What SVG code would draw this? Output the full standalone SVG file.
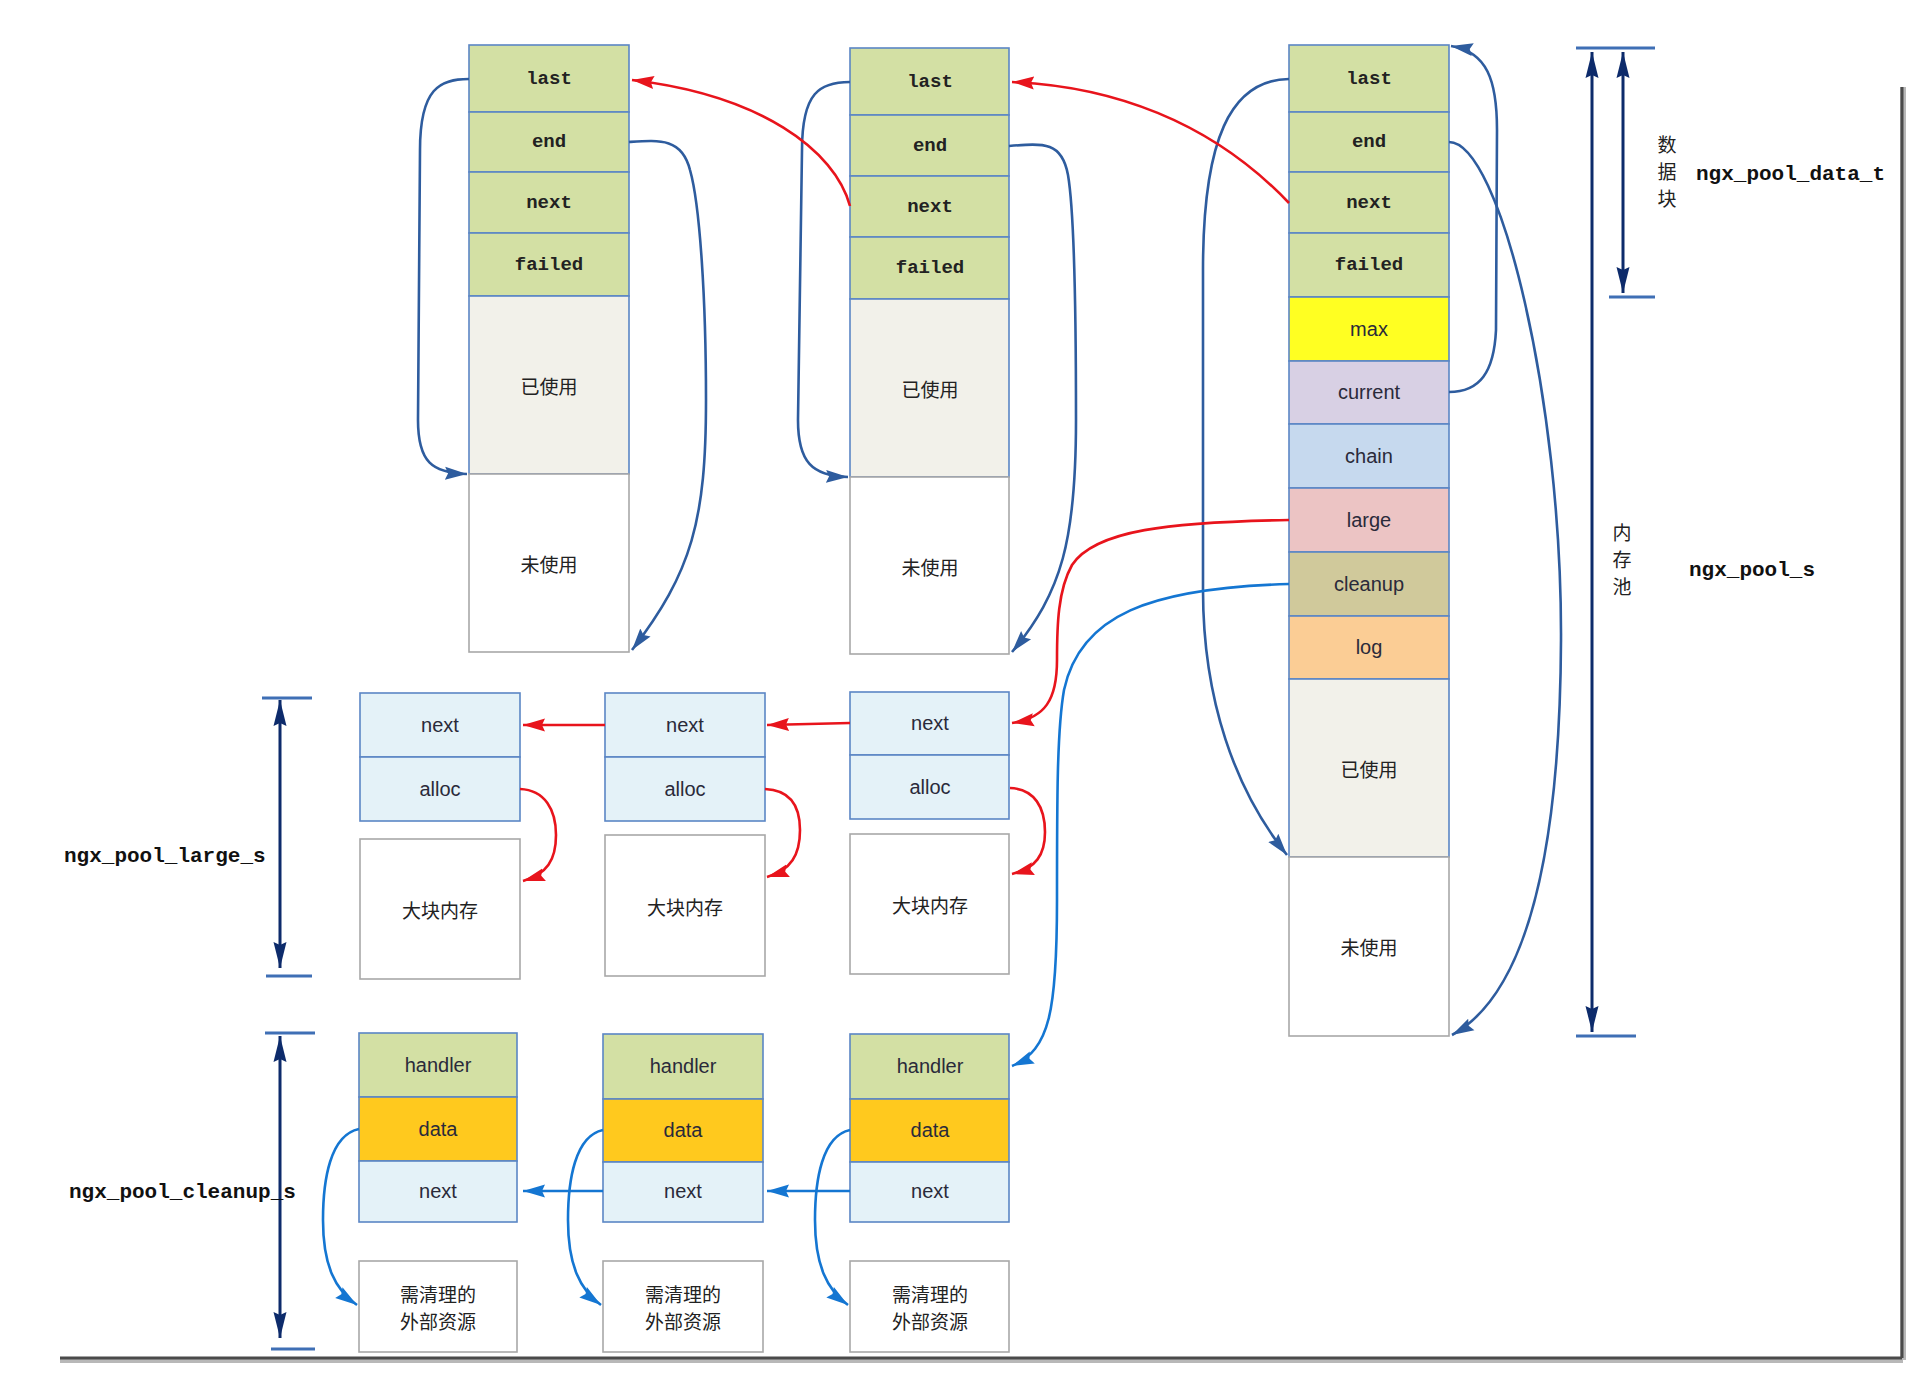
<svg xmlns="http://www.w3.org/2000/svg" width="1932" height="1378" viewBox="0 0 1932 1378">
<style>
.b{stroke:#5b86c5;stroke-width:1.6}
.u{fill:#ffffff;stroke:#a8a8a8;stroke-width:1.6}
.g{fill:#d3e0a4}
.used{fill:#f2f1ea}
.lb{fill:#e4f2f8}
.mono{font-family:"Liberation Mono","DejaVu Sans Mono",monospace;font-size:19px;font-weight:bold;fill:#222;text-anchor:middle;dominant-baseline:central}
.sans{font-family:"Liberation Sans",Arial,sans-serif;font-size:20px;fill:#2a2a3a;text-anchor:middle;dominant-baseline:central}
.cjk{font-family:"Noto Sans CJK SC","Noto Sans",sans-serif;font-size:19px;fill:#222;text-anchor:middle;dominant-baseline:central}
.lab{font-family:"Liberation Mono","DejaVu Sans Mono",monospace;font-size:21px;font-weight:bold;fill:#111;dominant-baseline:central}
.cb{fill:none;stroke:#2e5c9e;stroke-width:2.6}
.cr{fill:none;stroke:#e8141c;stroke-width:2.6}
.cl{fill:none;stroke:#1476d2;stroke-width:2.6}
.dim{fill:none;stroke:#0d2b6b;stroke-width:3}
.tick{stroke:#3f6fb5;stroke-width:3}
</style>
<defs>
<marker id="ab" markerUnits="userSpaceOnUse" markerWidth="24" markerHeight="16" refX="22" refY="8" orient="auto" viewBox="0 0 24 16"><path d="M0,1.5 L22,8 L0,14.5 L3,8 z" fill="#2e5c9e"/></marker>
<marker id="ar" markerUnits="userSpaceOnUse" markerWidth="24" markerHeight="16" refX="22" refY="8" orient="auto" viewBox="0 0 24 16"><path d="M0,1.5 L22,8 L0,14.5 L3,8 z" fill="#e8141c"/></marker>
<marker id="al" markerUnits="userSpaceOnUse" markerWidth="24" markerHeight="16" refX="22" refY="8" orient="auto" viewBox="0 0 24 16"><path d="M0,1.5 L22,8 L0,14.5 L3,8 z" fill="#1476d2"/></marker>
<marker id="ad" markerUnits="userSpaceOnUse" markerWidth="28" markerHeight="14" refX="26" refY="7" orient="auto-start-reverse" viewBox="0 0 28 14"><path d="M0,0.5 L26,7 L0,13.5 L3,7 z" fill="#0d2b6b"/></marker>
</defs>

<!-- frame shadow -->
<g id="frame">
<line x1="1903" y1="87" x2="1903" y2="1360" stroke="#b8b8b8" stroke-width="6"/>
<line x1="60" y1="1360" x2="1903" y2="1360" stroke="#b8b8b8" stroke-width="6"/>
<line x1="1902" y1="87" x2="1902" y2="1358" stroke="#4a4a4a" stroke-width="3"/>
<line x1="60" y1="1358" x2="1902" y2="1358" stroke="#4a4a4a" stroke-width="3"/>
</g>

<!-- Block 1 -->
<g id="block1">
<rect x="469" y="45" width="160" height="67" class="g b"/>
<rect x="469" y="112" width="160" height="60" class="g b"/>
<rect x="469" y="172" width="160" height="61" class="g b"/>
<rect x="469" y="233" width="160" height="63" class="g b"/>
<rect x="469" y="296" width="160" height="178" class="used b"/>
<rect x="469" y="474" width="160" height="178" class="u"/>
<text x="549" y="79" class="mono">last</text>
<text x="549" y="142" class="mono">end</text>
<text x="549" y="203" class="mono">next</text>
<text x="549" y="265" class="mono">failed</text>
<text x="549" y="385" class="cjk">已使用</text>
<text x="549" y="563" class="cjk">未使用</text>
</g>

<!-- Block 2 -->
<g id="block2">
<rect x="850" y="48" width="159" height="67" class="g b"/>
<rect x="850" y="115" width="159" height="61" class="g b"/>
<rect x="850" y="176" width="159" height="61" class="g b"/>
<rect x="850" y="237" width="159" height="62" class="g b"/>
<rect x="850" y="299" width="159" height="178" class="used b"/>
<rect x="850" y="477" width="159" height="177" class="u"/>
<text x="930" y="82" class="mono">last</text>
<text x="930" y="146" class="mono">end</text>
<text x="930" y="207" class="mono">next</text>
<text x="930" y="268" class="mono">failed</text>
<text x="930" y="388" class="cjk">已使用</text>
<text x="930" y="566" class="cjk">未使用</text>
</g>

<!-- Block 3 (pool) -->
<g id="pool">
<rect x="1289" y="45" width="160" height="67" class="g b"/>
<rect x="1289" y="112" width="160" height="60" class="g b"/>
<rect x="1289" y="172" width="160" height="61" class="g b"/>
<rect x="1289" y="233" width="160" height="64" class="g b"/>
<rect x="1289" y="297" width="160" height="64" fill="#ffff22" class="b"/>
<rect x="1289" y="361" width="160" height="63" fill="#d8d0e4" class="b"/>
<rect x="1289" y="424" width="160" height="64" fill="#c6d9ee" class="b"/>
<rect x="1289" y="488" width="160" height="64" fill="#ecc4c4" class="b"/>
<rect x="1289" y="552" width="160" height="64" fill="#d0c99b" class="b"/>
<rect x="1289" y="616" width="160" height="63" fill="#fbcd95" class="b"/>
<rect x="1289" y="679" width="160" height="178" class="used b"/>
<rect x="1289" y="857" width="160" height="179" class="u"/>
<text x="1369" y="79" class="mono">last</text>
<text x="1369" y="142" class="mono">end</text>
<text x="1369" y="203" class="mono">next</text>
<text x="1369" y="265" class="mono">failed</text>
<text x="1369" y="329" class="sans">max</text>
<text x="1369" y="392" class="sans">current</text>
<text x="1369" y="456" class="sans">chain</text>
<text x="1369" y="520" class="sans">large</text>
<text x="1369" y="584" class="sans">cleanup</text>
<text x="1369" y="647" class="sans">log</text>
<text x="1369" y="768" class="cjk">已使用</text>
<text x="1369" y="946" class="cjk">未使用</text>
</g>

<!-- large list -->
<g id="large1">
<rect x="360" y="693" width="160" height="64" class="lb b"/>
<rect x="360" y="757" width="160" height="64" class="lb b"/>
<text x="440" y="725" class="sans">next</text>
<text x="440" y="789" class="sans">alloc</text>
</g>
<g id="big1"><rect x="360" y="839" width="160" height="140" class="u"/><text x="440" y="909" class="cjk" font-size="20">大块内存</text></g>
<g id="large2">
<rect x="605" y="693" width="160" height="64" class="lb b"/>
<rect x="605" y="757" width="160" height="64" class="lb b"/>
<text x="685" y="725" class="sans">next</text>
<text x="685" y="789" class="sans">alloc</text>
</g>
<g id="big2"><rect x="605" y="835" width="160" height="141" class="u"/><text x="685" y="906" class="cjk" font-size="20">大块内存</text></g>
<g id="large3">
<rect x="850" y="692" width="159" height="63" class="lb b"/>
<rect x="850" y="755" width="159" height="64" class="lb b"/>
<text x="930" y="723" class="sans">next</text>
<text x="930" y="787" class="sans">alloc</text>
</g>
<g id="big3"><rect x="850" y="834" width="159" height="140" class="u"/><text x="930" y="904" class="cjk" font-size="20">大块内存</text></g>

<!-- cleanup list -->
<g id="cleanup1">
<rect x="359" y="1033" width="158" height="64" class="g b"/>
<rect x="359" y="1097" width="158" height="64" fill="#ffc91e" class="b"/>
<rect x="359" y="1161" width="158" height="61" class="lb b"/>
<text x="438" y="1065" class="sans">handler</text>
<text x="438" y="1129" class="sans">data</text>
<text x="438" y="1191" class="sans">next</text>
</g>
<g id="res1"><rect x="359" y="1261" width="158" height="91" class="u"/><text x="438" y="1293" class="cjk" font-size="20">需清理的</text><text x="438" y="1320" class="cjk" font-size="20">外部资源</text></g>
<g id="cleanup2">
<rect x="603" y="1034" width="160" height="65" class="g b"/>
<rect x="603" y="1099" width="160" height="63" fill="#ffc91e" class="b"/>
<rect x="603" y="1162" width="160" height="60" class="lb b"/>
<text x="683" y="1066" class="sans">handler</text>
<text x="683" y="1130" class="sans">data</text>
<text x="683" y="1191" class="sans">next</text>
</g>
<g id="res2"><rect x="603" y="1261" width="160" height="91" class="u"/><text x="683" y="1293" class="cjk" font-size="20">需清理的</text><text x="683" y="1320" class="cjk" font-size="20">外部资源</text></g>
<g id="cleanup3">
<rect x="850" y="1034" width="159" height="65" class="g b"/>
<rect x="850" y="1099" width="159" height="63" fill="#ffc91e" class="b"/>
<rect x="850" y="1162" width="159" height="60" class="lb b"/>
<text x="930" y="1066" class="sans">handler</text>
<text x="930" y="1130" class="sans">data</text>
<text x="930" y="1191" class="sans">next</text>
</g>
<g id="res3"><rect x="850" y="1261" width="159" height="91" class="u"/><text x="930" y="1293" class="cjk" font-size="20">需清理的</text><text x="930" y="1320" class="cjk" font-size="20">外部资源</text></g>

<!-- dimension marks and labels -->
<g id="dims">
<line x1="1576" y1="48" x2="1655" y2="48" class="tick"/>
<line x1="1609" y1="297" x2="1655" y2="297" class="tick"/>
<line x1="1576" y1="1036" x2="1636" y2="1036" class="tick"/>
<line x1="1592" y1="52" x2="1592" y2="1032" class="dim" marker-start="url(#ad)" marker-end="url(#ad)"/>
<line x1="1623" y1="52" x2="1623" y2="293" class="dim" marker-start="url(#ad)" marker-end="url(#ad)"/>
<line x1="262" y1="698" x2="312" y2="698" class="tick"/>
<line x1="266" y1="976" x2="312" y2="976" class="tick"/>
<line x1="280" y1="700" x2="280" y2="968" class="dim" marker-start="url(#ad)" marker-end="url(#ad)"/>
<line x1="265" y1="1033" x2="315" y2="1033" class="tick"/>
<line x1="271" y1="1349" x2="315" y2="1349" class="tick"/>
<line x1="280" y1="1036" x2="280" y2="1338" class="dim" marker-start="url(#ad)" marker-end="url(#ad)"/>
</g>
<g id="labels">
<text x="1667" y="143" class="cjk">数</text>
<text x="1667" y="170" class="cjk">据</text>
<text x="1667" y="197" class="cjk">块</text>
<text x="1696" y="174" class="lab">ngx_pool_data_t</text>
<text x="1622" y="531" class="cjk">内</text>
<text x="1622" y="558" class="cjk">存</text>
<text x="1622" y="585" class="cjk">池</text>
<text x="1689" y="570" class="lab">ngx_pool_s</text>
<text x="64" y="856" class="lab">ngx_pool_large_s</text>
<text x="69" y="1192" class="lab">ngx_pool_cleanup_s</text>
</g>

<!-- connectors -->
<g id="connectors">
<path class="cb" marker-end="url(#ab)" d="M469,79 C440,79 420,88 420,150 L418,420 C418,462 432,473 467,474"/>
<path class="cb" marker-end="url(#ab)" d="M850,82 C820,82 802,92 802,150 L798,420 C798,462 812,476 848,477"/>
<path class="cb" marker-end="url(#ab)" d="M1289,79 C1230,80 1203,140 1203,270 L1203,590 C1203,700 1235,790 1287,855"/>
<path class="cb" marker-end="url(#ab)" d="M629,142 C660,140 682,138 690,170 C700,205 706,300 706,400 C706,520 692,572 632,650"/>
<path class="cb" marker-end="url(#ab)" d="M1009,146 C1045,143 1062,142 1068,175 C1074,210 1076,300 1076,420 C1076,540 1062,592 1012,652"/>
<path class="cb" marker-end="url(#ab)" d="M1449,392 C1480,392 1494,372 1496,330 L1497,130 C1497,80 1487,52 1451,46"/>
<path class="cb" marker-end="url(#ab)" d="M1449,142 C1500,142 1562,400 1561,640 C1560,860 1525,995 1452,1035"/>
<path class="cr" marker-end="url(#ar)" d="M1289,203 C1210,120 1110,86 1012,82"/>
<path class="cr" marker-end="url(#ar)" d="M850,206 C835,150 760,95 632,80"/>
<path class="cr" marker-end="url(#ar)" d="M1289,520 C1170,522 1095,530 1072,565 C1058,590 1057,625 1057,660 C1057,700 1045,718 1012,723"/>
<path class="cr" marker-end="url(#ar)" d="M605,725 L523,725"/>
<path class="cr" marker-end="url(#ar)" d="M850,723 L767,725"/>
<path class="cr" marker-end="url(#ar)" d="M520,789 C545,790 556,810 556,835 C556,860 547,874 523,881"/>
<path class="cr" marker-end="url(#ar)" d="M765,789 C790,790 800,805 800,830 C800,855 791,870 767,877"/>
<path class="cr" marker-end="url(#ar)" d="M1010,788 C1035,789 1045,808 1045,832 C1045,855 1036,868 1012,874"/>
<path class="cl" marker-end="url(#al)" d="M1289,584 C1150,588 1080,615 1064,690 C1057,730 1057,800 1057,900 C1057,1010 1050,1050 1012,1066"/>
<path class="cl" marker-end="url(#al)" d="M603,1191 L523,1191"/>
<path class="cl" marker-end="url(#al)" d="M850,1191 L767,1191"/>
<path class="cl" marker-end="url(#al)" d="M359,1129 C330,1135 323,1180 323,1220 C323,1265 335,1290 357,1305"/>
<path class="cl" marker-end="url(#al)" d="M603,1130 C575,1136 568,1180 568,1220 C568,1265 580,1290 601,1305"/>
<path class="cl" marker-end="url(#al)" d="M850,1130 C822,1136 815,1180 815,1220 C815,1265 827,1290 848,1305"/>
</g>
</svg>
